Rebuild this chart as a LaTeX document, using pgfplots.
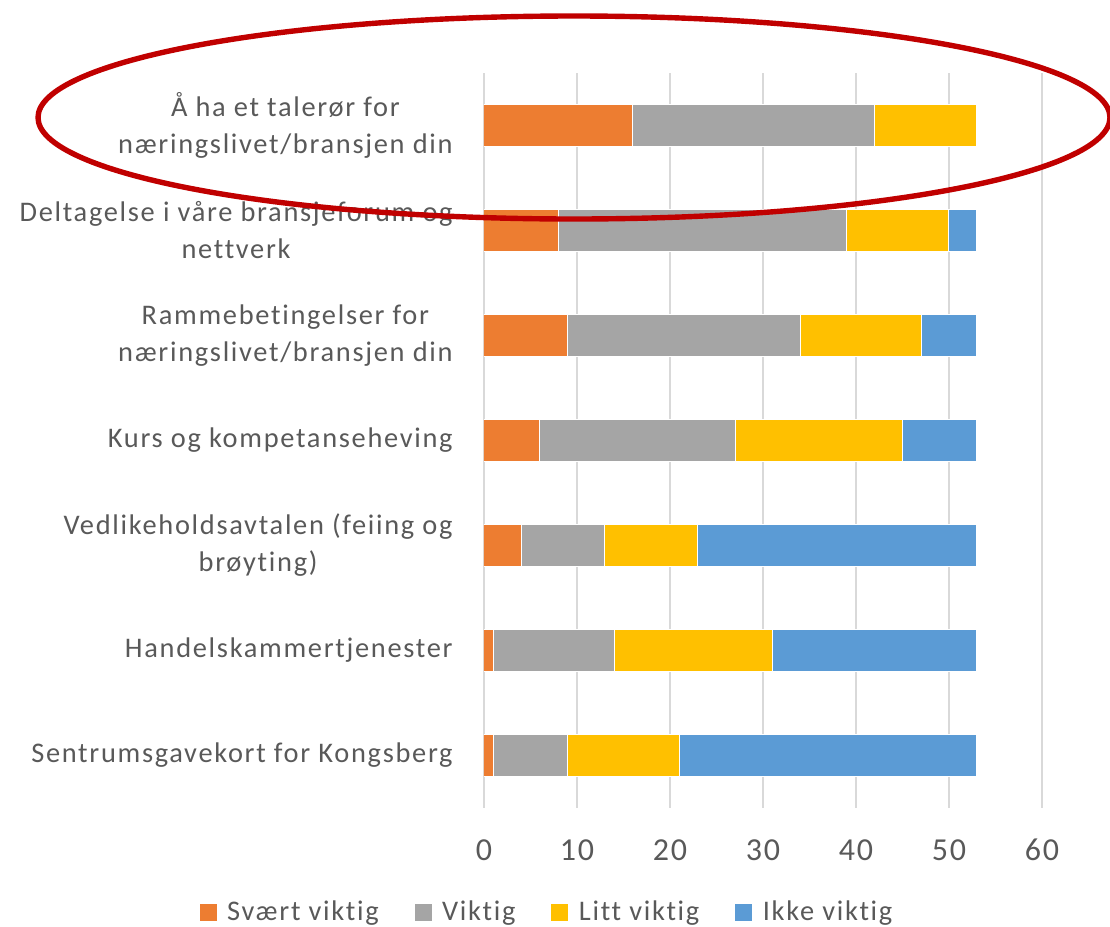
\documentclass[border=0pt]{standalone}
\usepackage{fontspec}
\setmainfont{Carlito}
\newfontfamily\labfont[LetterSpace=6, Ligatures=NoCommon]{Carlito}
\usepackage{pgfplots}
\pgfplotsset{compat=1.18}
\usepackage{pgfplotstable}
\definecolor{cOr}{HTML}{ED7D31}
\definecolor{cGr}{HTML}{A5A5A5}
\definecolor{cYe}{HTML}{FFC000}
\definecolor{cBl}{HTML}{5B9BD5}
\definecolor{cTx}{HTML}{595959}
\definecolor{cGrid}{HTML}{D9D9D9}
\definecolor{cRed}{HTML}{C00000}
\pgfplotstableread{
y a b c d
1 16 26 11 0
2 8 31 11 3
3 9 25 13 6
4 6 21 18 8
5 4 9 10 30
6 1 13 17 22
7 1 8 12 32
}\datatable
\begin{document}
\begin{tikzpicture}
\begin{axis}[
  at={(242pt,-404pt)}, anchor=south west,
  scale only axis, width=279pt, height=367.5pt,
  xbar stacked, bar width=21pt,
  xmin=0, xmax=60, ymin=0.5, ymax=7.5,
  y dir=reverse,
  xtick={0,10,...,60},
  ytick={1,...,7},
  yticklabels={{Å ha et talerør for\\næringslivet/bransjen din},
    {Deltagelse i våre bransjeforum og\\nettverk},
    {Rammebetingelser for\\næringslivet/bransjen din},
    {Kurs og kompetanseheving},
    {Vedlikeholdsavtalen (feiing og\\brøyting)},
    {Handelskammertjenester},
    {Sentrumsgavekort for Kongsberg}},
  axis line style={draw=none},
  major tick length=0pt,
  xmajorgrids, major grid style={cGrid, line width=0.85pt},
  /pgf/number format/assume math mode=true,
  xticklabel style={font=\labfont\fontsize{16}{19}\selectfont, text=cTx, anchor=center, inner sep=0pt, yshift=-21pt},
  yticklabel style={font=\labfont\fontsize{14.2}{18.5}\selectfont, text=cTx, align=center, anchor=east, inner sep=0pt, xshift=-15.5pt},
  legend columns=4,
  legend style={at={(0.1147,-0.1415)}, anchor=center, draw=none, fill=none,
    font=\labfont\fontsize{14.2}{17}\selectfont, text=cTx,
    /tikz/every even column/.append style={column sep=16pt}},
  legend image code/.code={\fill[#1, draw=none] (0pt,-4.25pt) rectangle (8.5pt,4.25pt); \path (11.5pt,0pt);},
]
\addplot[fill=cOr, draw=white, line width=0.5pt] table[x=a, y=y] {\datatable};
\addplot[fill=cGr, draw=white, line width=0.5pt] table[x=b, y=y] {\datatable};
\addplot[fill=cYe, draw=white, line width=0.5pt] table[x=c, y=y] {\datatable};
\addplot[fill=cBl, draw=white, line width=0.5pt] table[x=d, y=y] {\datatable};
\legend{Svært viktig, Viktig, Litt viktig, Ikke viktig}
\end{axis}
\draw[cRed, line width=2.7pt] (287pt,-58.75pt) ellipse [x radius=268pt, y radius=50.75pt];
\pgfresetboundingbox
\useasboundingbox (0pt,0pt) rectangle (555pt,-463.5pt);
\end{tikzpicture}
\end{document}
